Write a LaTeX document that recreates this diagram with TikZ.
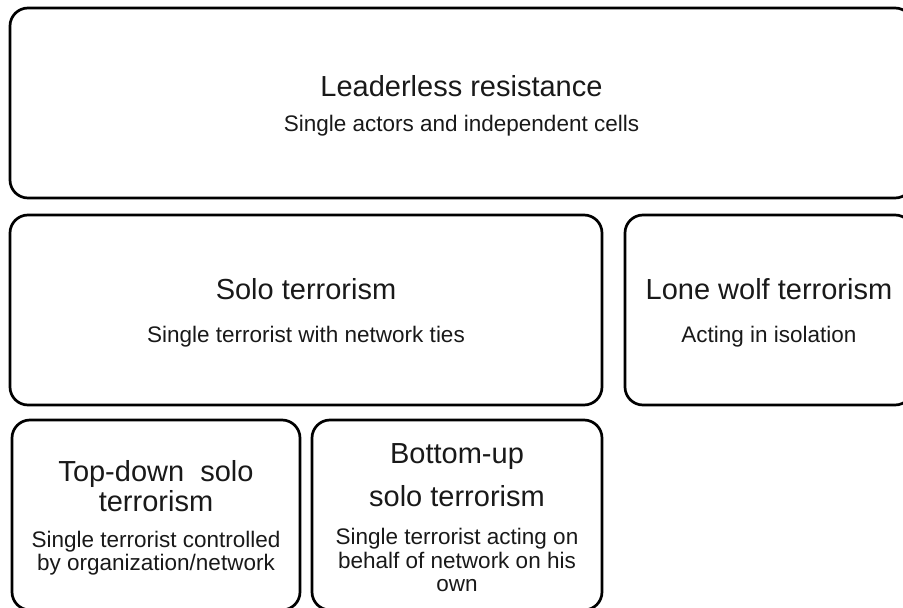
\documentclass[tikz,border=0pt]{standalone}
\usepackage{fontspec}
\setmainfont{Liberation Sans}
\newcommand{\boxtitle}{\fontsize{29}{30}\selectfont}
\newcommand{\boxsub}{\fontsize{22.5}{23.5}\selectfont}

\begin{document}
\begin{tikzpicture}[x=1pt, y=-1pt, Box/.style={rectangle, rounded corners=18pt, draw=black, line width=2.7pt, inner sep=0pt, outer sep=0pt, align=flush center, text width=#1-16pt, minimum width=#1, minimum height=190, text=black!90}]
        \useasboundingbox (0,0) rectangle (903,608);
        % \draw[help lines, gray] (0,0) grid[step=50] (903,608);
        \node[Box=903pt] (LR) at (461.5,103){\boxtitle Leaderless resistance\par\vspace{12pt}\boxsub Single actors and independent cells\par\vspace{-6pt}};
        \node[Box=592pt] (ST) at (306,310){\boxtitle Solo terrorism\par\vspace{19pt}\boxsub Single terrorist with network ties\par\vspace{-6pt}};
        \node[Box=288pt] (LW) at (769,310){\boxtitle Lone wolf terrorism\par\vspace{19pt}\boxsub Acting in isolation\par\vspace{-6pt}};
        \node[Box=288pt] (TD) at (156,515){\boxtitle Top-down\ \ solo\\terrorism\par\vspace{12.5pt}\boxsub Single terrorist controlled\\by organization/network\par\vspace{-6pt}};
        \node[Box=290pt] (BU) at (457,515){\boxtitle Bottom-up\par\vspace{13pt}solo terrorism\par\vspace{14.5pt}\boxsub Single terrorist acting on\\behalf of network on his\\own\par\vspace{-6pt}};

    \end{tikzpicture}
\end{document}
